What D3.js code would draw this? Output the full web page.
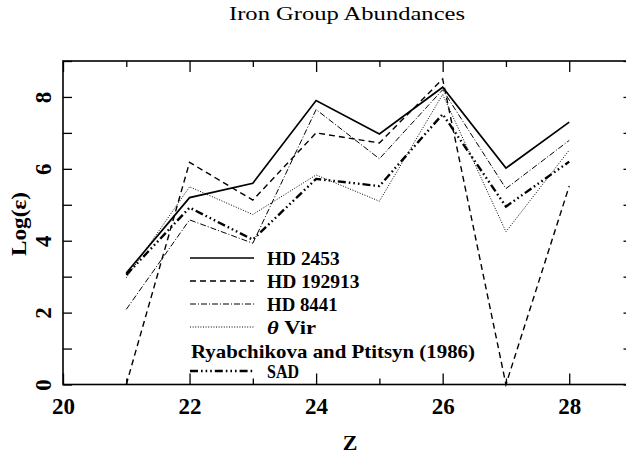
<!DOCTYPE html>
<html>
<head>
<meta charset="utf-8">
<script src="https://cdn.jsdelivr.net/npm/d3@7"></script>
<style>
  html, body { margin: 0; padding: 0; background: #fff; }
  svg { display: block; }
  text { font-family: "Liberation Serif", "DejaVu Serif", serif; fill: #000; }
</style>
</head>
<body>
<svg id="chart" width="626" height="456"></svg>
<script>
const title = "Iron Group Abundances";
const xLabel = "Z";
const yLabel = "Log(ε)";
const zValues = [21, 22, 23, 24, 25, 26, 27, 28];
const hd2453   = [3.10, 5.20, 5.60, 7.90, 6.97, 8.27, 6.02, 7.30];
const hd192913 = [0.00, 6.18, 5.13, 7.00, 6.72, 8.50, 0.00, 5.52];
const hd8441   = [2.09, 4.58, 3.93, 7.65, 6.28, 8.20, 5.45, 6.79];
const thetaVir = [2.97, 5.50, 4.73, 5.83, 5.10, 8.07, 4.25, 6.52];
const sad      = [3.05, 4.92, 4.03, 5.72, 5.52, 7.52, 4.95, 6.20];
const seriesNames = ["HD 2453", "HD 192913", "HD 8441", "θ  Vir", "SAD"];
const legendNote = "Ryabchikova and Ptitsyn (1986)";
const xMajorTicks = [20, 22, 24, 26, 28];
const xMinorTicks = [21, 23, 25, 27, 29];
const yTicks = [0, 1, 2, 3, 4, 5, 6, 7, 8, 9];
const yTickLabels = [0, 2, 4, 6, 8];

const svg = d3.select("#chart");
const x = d3.scaleLinear().domain([20, 29]).range([63, 632.5]);
const y = d3.scaleLinear().domain([0, 9]).range([384.5, 61]);

const styles = [
  { w: 1.7, dash: null },
  { w: 1.4, dash: "6,4" },
  { w: 1.0, dash: "6,2,1,2" },
  { w: 1.0, dash: "1,1.6" },
  { w: 2.4, dash: "8,3,1.6,3,1.6,3,1.6,3" }
];
const allSeries = [hd2453, hd192913, hd8441, thetaVir, sad];

// Frame
svg.append("rect")
  .attr("x", x(20)).attr("y", y(9))
  .attr("width", x(29) - x(20)).attr("height", y(0) - y(9))
  .attr("fill", "none").attr("stroke", "#000").attr("stroke-width", 1.6);

function clean(g) { g.select(".domain").remove(); g.selectAll("line").attr("stroke-width", 1.3); }

// Bottom axis
const bMaj = svg.append("g").attr("transform", `translate(0,${y(0)})`)
  .call(d3.axisBottom(x).tickValues(xMajorTicks).tickSize(-11).tickPadding(12).tickFormat(d3.format("d")));
clean(bMaj);
bMaj.selectAll("text").style("font-size", "23px").style("font-weight", "bold").attr("dy", "0.75em");
const bMin = svg.append("g").attr("transform", `translate(0,${y(0)})`)
  .call(d3.axisBottom(x).tickValues(xMinorTicks).tickSize(-6).tickFormat(""));
clean(bMin);

// Top axis
const tMaj = svg.append("g").attr("transform", `translate(0,${y(9)})`)
  .call(d3.axisTop(x).tickValues(xMajorTicks).tickSize(-11).tickFormat(""));
clean(tMaj);
const tMin = svg.append("g").attr("transform", `translate(0,${y(9)})`)
  .call(d3.axisTop(x).tickValues(xMinorTicks).tickSize(-6).tickFormat(""));
clean(tMin);

// Left axis
const lAx = svg.append("g").attr("transform", `translate(${x(20)},0)`)
  .call(d3.axisLeft(y).tickValues(yTicks).tickSize(-9)
    .tickFormat(d => yTickLabels.includes(d) ? d3.format("d")(d) : ""));
clean(lAx);
lAx.selectAll("text")
  .attr("transform", "rotate(-90)")
  .attr("x", 0).attr("y", -12).attr("dy", 0)
  .attr("text-anchor", "middle")
  .style("font-size", "23px").style("font-weight", "bold");

// Right axis
const rAx = svg.append("g").attr("transform", `translate(${x(29)},0)`)
  .call(d3.axisRight(y).tickValues(yTicks).tickSize(-9).tickFormat(""));
clean(rAx);

// Lines
const line = d3.line().x((d, i) => x(zValues[i])).y(d => y(d));
allSeries.forEach((s, i) => {
  svg.append("path").datum(s)
    .attr("d", line)
    .attr("fill", "none").attr("stroke", "#000")
    .attr("stroke-width", styles[i].w)
    .attr("stroke-dasharray", styles[i].dash)
    .attr("stroke-linejoin", "miter");
});

// Legend
const legRows = [258, 281, 304, 327, 371];
const legWidths = [72.6, 92.6, 70.6, 49, 32];
seriesNames.forEach((name, i) => {
  svg.append("line")
    .attr("x1", 190).attr("x2", 254)
    .attr("y1", legRows[i]).attr("y2", legRows[i])
    .attr("stroke", "#000").attr("stroke-width", styles[i].w)
    .attr("stroke-dasharray", styles[i].dash);
  const t = svg.append("text")
    .attr("x", 267).attr("y", legRows[i]).attr("dy", "0.34em")
    .attr("textLength", legWidths[i]).attr("lengthAdjust", "spacingAndGlyphs")
    .style("font-size", "19.5px").style("font-weight", "bold");
  if (name.startsWith("θ")) {
    t.append("tspan").style("font-style", "italic").text("θ");
    t.append("tspan").text(name.slice(1));
  } else {
    t.text(name);
  }
});
svg.append("text")
  .attr("x", 191).attr("y", 351).attr("dy", "0.34em")
  .attr("textLength", 284).attr("lengthAdjust", "spacingAndGlyphs")
  .style("font-size", "19.5px").style("font-weight", "bold")
  .text(legendNote);

// Title and labels
svg.append("text")
  .attr("x", 347).attr("y", 20)
  .attr("text-anchor", "middle")
  .attr("textLength", 236).attr("lengthAdjust", "spacingAndGlyphs")
  .style("font-size", "19px")
  .text(title);
svg.append("text")
  .attr("x", 350).attr("y", 450)
  .attr("text-anchor", "middle")
  .style("font-size", "22px").style("font-weight", "bold")
  .text(xLabel);
svg.append("text")
  .attr("transform", `translate(26,224) rotate(-90)`)
  .attr("text-anchor", "middle")
  .attr("textLength", 64).attr("lengthAdjust", "spacingAndGlyphs")
  .style("font-size", "22px").style("font-weight", "bold")
  .text(yLabel);
</script>
</body>
</html>
